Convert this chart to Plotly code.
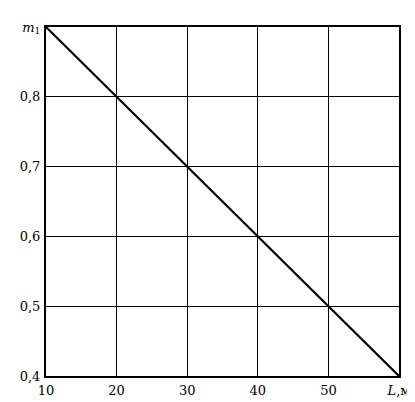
import plotly.graph_objects as go

L_values = [10, 20, 30, 40, 50, 60]
m_values = [0.9, 0.8, 0.7, 0.6, 0.5, 0.4]

x_tick_vals = [10, 20, 30, 40, 50, 60]
x_tick_text = ["10", "20", "30", "40", "50", "<i>L</i>,м"]
y_tick_vals = [0.4, 0.5, 0.6, 0.7, 0.8, 0.9]
y_tick_text = ["0,4", "0,5", "0,6", "0,7", "0,8", "<i>m</i><sub>1</sub>"]

fig = go.Figure()
fig.add_trace(go.Scatter(x=L_values, y=m_values, mode="lines",
                         line=dict(color="black", width=2.2), showlegend=False))

fig.update_layout(
    width=415, height=402,
    margin=dict(l=30, r=24, t=15, b=26),
    paper_bgcolor="white", plot_bgcolor="white",
    font=dict(family="DejaVu Serif", size=13, color="black"),
)
fig.update_xaxes(range=[10, 60], tickvals=x_tick_vals, ticktext=x_tick_text,
                 showgrid=True, gridcolor="black", gridwidth=1.4,
                 showline=True, linecolor="black", linewidth=2, mirror=True,
                 zeroline=False, ticks="", ticklabelstandoff=1)
fig.update_yaxes(range=[0.4, 0.9], tickvals=y_tick_vals, ticktext=y_tick_text,
                 showgrid=True, gridcolor="black", gridwidth=1.4,
                 showline=True, linecolor="black", linewidth=2, mirror=True,
                 zeroline=False, ticks="", ticklabelstandoff=1)

fig.write_html("out.html")
